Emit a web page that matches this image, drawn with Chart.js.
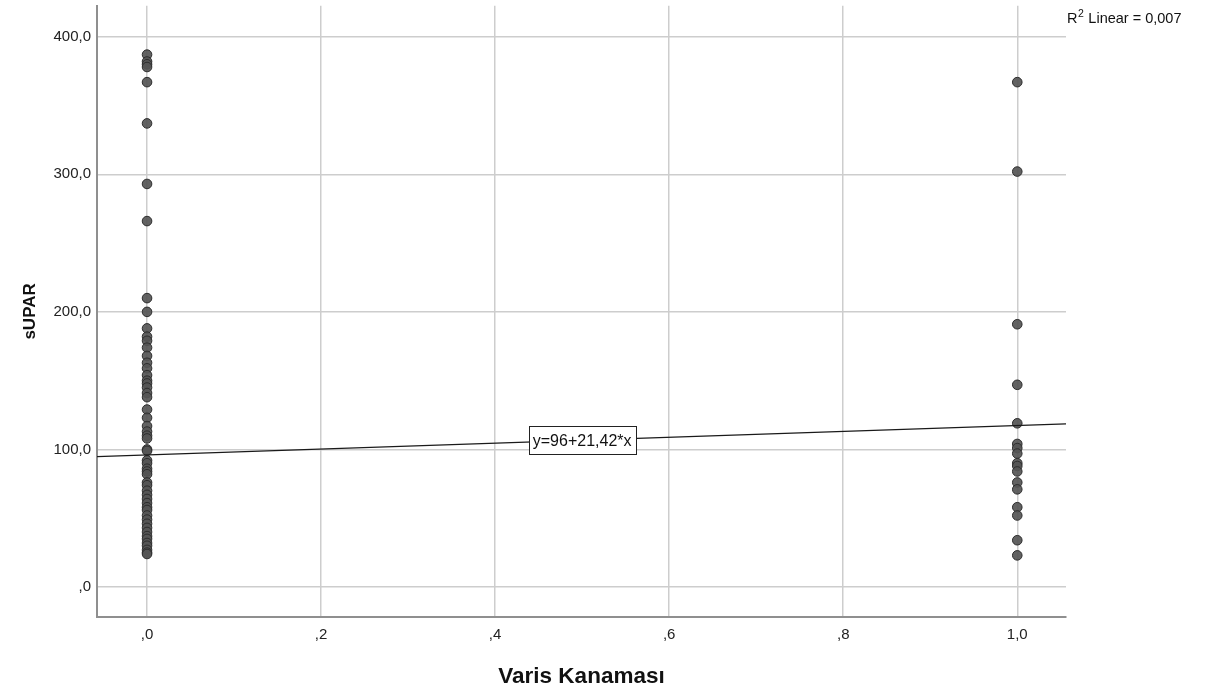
<!DOCTYPE html>
<html>
<head>
<meta charset="utf-8">
<script src="https://cdn.jsdelivr.net/npm/chart.js@4.4.0/dist/chart.umd.min.js"></script>
<style>
    html, body { margin: 0; padding: 0; background: #fff; }
    #wrap { width: 1211px; height: 695px; position: relative; }
</style>
</head>
<body>
<div id="wrap"><canvas id="chart" width="1211" height="695"></canvas></div>
<script>
// --- DATA ---
// sUPAR values for Varis Kanaması = 0 and = 1
const groupX = [0, 1];
const sUparNoBleed = [387, 382, 380, 378, 367, 337, 293, 266, 210, 200, 188, 182, 179, 174, 168, 163, 159, 154,
    150, 148, 145, 141, 138, 129, 123, 117, 113, 110, 108, 100, 99, 92, 90, 86, 84, 82, 76, 74, 70, 67, 64,
    61, 58, 56, 52, 49, 46, 43, 40, 37, 35, 32, 30, 27, 25, 24];
const sUparBleed = [367, 302, 191, 147, 119, 104, 101, 97, 90, 88, 84, 76, 71, 58, 52, 34, 23];

// fit line (SPSS linear fit)
const fitIntercept = 96;
const fitSlope = 21.42;
const fitLabel = 'y=96+21,42*x';
const fitLabelX = 0.5;
const r2Label = 'Linear = 0,007';

// axes
const xTicks = [0, 0.2, 0.4, 0.6, 0.8, 1.0];
const xTickLabels = [',0', ',2', ',4', ',6', ',8', '1,0'];
const yTicks = [0, 100, 200, 300, 400];
const yTickLabels = [',0', '100,0', '200,0', '300,0', '400,0'];
const X_MIN = -0.0575, X_MAX = 1.056;
const Y_MIN = -21.8, Y_MAX = 422.5;

const FONT = 'Arial, "Liberation Sans", sans-serif';

const scatterPoints = [
    ...sUparNoBleed.map(v => ({ x: groupX[0], y: v })),
    ...sUparBleed.map(v => ({ x: groupX[1], y: v })),
];
const fitPoints = [X_MIN, X_MAX].map(x => ({ x, y: fitIntercept + fitSlope * x }));

// --- annotations (fit label box + R2 text) ---
const annotationPlugin = {
    id: 'spssNotes',
    afterDatasetsDraw(chart) {
        const { ctx, scales } = chart;
        const px = scales.x.getPixelForValue(fitLabelX);
        const py = scales.y.getPixelForValue(fitIntercept + fitSlope * fitLabelX);
        ctx.save();
        ctx.font = '16px ' + FONT;
        const w = Math.round(ctx.measureText(fitLabel).width + 8);
        const h = 28;
        const bx = Math.round(px - w / 2), by = Math.round(py - h / 2);
        ctx.fillStyle = '#fff';
        ctx.fillRect(bx, by, w, h);
        ctx.strokeStyle = '#222';
        ctx.lineWidth = 1;
        ctx.strokeRect(bx + 0.5, by + 0.5, w, h);
        ctx.fillStyle = '#111';
        ctx.textAlign = 'center';
        ctx.textBaseline = 'middle';
        ctx.fillText(fitLabel, px, py + 1);

        // R² Linear label, outside top-right of the plot
        const rx = chart.chartArea.right + 1;
        ctx.textAlign = 'left';
        ctx.textBaseline = 'alphabetic';
        ctx.font = '14.5px ' + FONT;
        ctx.fillText('R', rx, 23);
        const rw = ctx.measureText('R').width;
        ctx.font = '10.5px ' + FONT;
        ctx.fillText('2', rx + rw + 0.5, 17);
        const sw = ctx.measureText('2').width;
        ctx.font = '14.5px ' + FONT;
        ctx.fillText(' ' + r2Label, rx + rw + sw + 1, 23);
        ctx.restore();
    }
};

new Chart(document.getElementById('chart').getContext('2d'), {
    type: 'scatter',
    data: {
        datasets: [
            {
                label: 'sUPAR',
                data: scatterPoints,
                backgroundColor: 'rgba(85,85,85,0.92)',
                borderColor: '#2c2c2c',
                borderWidth: 1,
                pointRadius: 4.8,
                order: 1
            },
            {
                type: 'line',
                label: 'fit',
                data: fitPoints,
                borderColor: '#1a1a1a',
                borderWidth: 1.2,
                pointRadius: 0,
                fill: false,
                order: 0
            }
        ]
    },
    options: {
        responsive: false,
        animation: false,
        layout: { padding: { top: 5, right: 145, left: 0, bottom: 0 } },
        plugins: { legend: { display: false }, tooltip: { enabled: false } },
        scales: {
            x: {
                type: 'linear',
                min: X_MIN,
                max: X_MAX,
                afterBuildTicks: (scale) => { scale.ticks = xTicks.map(v => ({ value: v })); },
                afterFit: (scale) => { scale.height = 78; scale.paddingLeft = 0; scale.paddingRight = 0; },
                ticks: {
                    autoSkip: false,
                    maxRotation: 0,
                    padding: 9,
                    color: '#222',
                    font: { family: FONT, size: 15 },
                    callback: (v) => xTickLabels[xTicks.indexOf(v)]
                },
                grid: { color: '#cdcdcd', lineWidth: 1.5, drawTicks: false },
                border: { color: '#8f8f8f', width: 2 },
                title: {
                    display: true,
                    text: 'Varis Kanaması',
                    color: '#111',
                    font: { family: FONT, size: 22.5, weight: 'bold' },
                    padding: { top: 0, bottom: 5 }
                }
            },
            y: {
                type: 'linear',
                min: Y_MIN,
                max: Y_MAX,
                afterBuildTicks: (scale) => { scale.ticks = yTicks.map(v => ({ value: v })); },
                afterFit: (scale) => { scale.width = 97; scale.paddingTop = 0; scale.paddingBottom = 0; },
                ticks: {
                    autoSkip: false,
                    padding: 6,
                    color: '#222',
                    font: { family: FONT, size: 15 },
                    callback: (v) => yTickLabels[yTicks.indexOf(v)]
                },
                grid: { color: '#cdcdcd', lineWidth: 1.5, drawTicks: false },
                border: { color: '#8f8f8f', width: 2 },
                title: {
                    display: true,
                    text: 'sUPAR',
                    color: '#111',
                    font: { family: FONT, size: 17, weight: 'bold' },
                    padding: { top: 20, bottom: 0 }
                }
            }
        }
    },
    plugins: [annotationPlugin]
});
</script>
</body>
</html>
